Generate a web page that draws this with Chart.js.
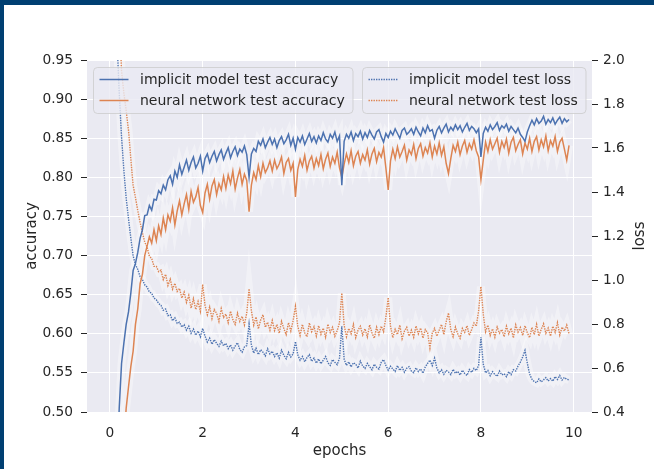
<!DOCTYPE html>
<html>
<head>
<meta charset="utf-8">
<script src="https://cdn.jsdelivr.net/npm/chart.js@4.4.1/dist/chart.umd.min.js"></script>
<style>
  html, body { margin: 0; padding: 0; background: #fff; }
  #wrap { width: 650px; height: 464px; border-top: 5px solid #003f72; border-left: 4px solid #003f72; position: relative; }
  canvas { display: block; }
</style>
</head>
<body>
<div id="wrap"><canvas id="myChart" width="650" height="464"></canvas></div>
<script>
// epochs sampled every 0.05 from 0 to 9.9
var epochs = [];
for (let i = 0; i < 199; i++) epochs.push(+(i * 0.05).toFixed(2));

var xTicks = [0, 2, 4, 6, 8, 10];
var accTicks = [0.50, 0.55, 0.60, 0.65, 0.70, 0.75, 0.80, 0.85, 0.90, 0.95];
var lossTicks = [0.4, 0.6, 0.8, 1.0, 1.2, 1.4, 1.6, 1.8, 2.0];

var accImplicit = [
0.100,0.205,0.318,0.425,0.505,0.562,0.588,0.612,0.628,0.652,
0.681,0.690,0.704,0.722,0.733,0.751,0.752,0.764,0.758,0.772,
0.771,0.783,0.779,0.790,0.784,0.797,0.802,0.791,0.808,0.800,
0.816,0.804,0.813,0.822,0.809,0.819,0.826,0.812,0.818,0.827,
0.808,0.824,0.830,0.819,0.827,0.833,0.821,0.829,0.835,0.823,
0.831,0.838,0.825,0.833,0.839,0.828,0.836,0.832,0.840,0.829,
0.800,0.830,0.837,0.833,0.846,0.841,0.849,0.838,0.845,0.851,
0.842,0.849,0.838,0.847,0.852,0.843,0.848,0.855,0.841,0.850,
0.836,0.851,0.845,0.853,0.842,0.849,0.856,0.846,0.852,0.844,
0.853,0.847,0.857,0.849,0.845,0.855,0.850,0.858,0.846,0.853,
0.790,0.846,0.855,0.850,0.858,0.847,0.856,0.852,0.859,0.849,
0.857,0.851,0.860,0.854,0.849,0.858,0.861,0.852,0.845,0.856,
0.851,0.859,0.854,0.862,0.856,0.850,0.860,0.863,0.855,0.858,
0.862,0.855,0.864,0.858,0.853,0.863,0.857,0.866,0.859,0.861,
0.850,0.860,0.865,0.857,0.863,0.868,0.858,0.864,0.860,0.867,
0.861,0.866,0.858,0.864,0.869,0.860,0.865,0.862,0.857,0.862,
0.826,0.856,0.864,0.859,0.867,0.861,0.865,0.870,0.860,0.866,
0.863,0.868,0.859,0.865,0.861,0.857,0.863,0.855,0.851,0.846,
0.858,0.866,0.873,0.867,0.875,0.869,0.872,0.878,0.868,0.874,
0.870,0.876,0.868,0.873,0.877,0.869,0.875,0.871,0.874
];

var accNeural = [
0.050,0.120,0.200,0.280,0.350,0.410,0.460,0.505,0.532,0.558,
0.578,0.612,0.632,0.664,0.676,0.700,0.712,0.724,0.716,0.733,
0.719,0.738,0.727,0.748,0.733,0.752,0.744,0.761,0.739,0.757,
0.770,0.752,0.766,0.778,0.759,0.782,0.768,0.775,0.787,0.764,
0.755,0.780,0.791,0.772,0.789,0.797,0.778,0.792,0.784,0.801,
0.786,0.803,0.792,0.808,0.785,0.799,0.810,0.791,0.804,0.796,
0.756,0.790,0.806,0.797,0.815,0.801,0.818,0.806,0.812,0.821,
0.808,0.822,0.811,0.817,0.826,0.805,0.819,0.824,0.809,0.818,
0.775,0.810,0.823,0.814,0.828,0.809,0.821,0.827,0.812,0.824,
0.815,0.829,0.811,0.823,0.831,0.814,0.826,0.818,0.832,0.812,
0.800,0.817,0.830,0.819,0.834,0.815,0.827,0.833,0.818,0.829,
0.822,0.835,0.817,0.830,0.837,0.820,0.832,0.826,0.838,0.812,
0.784,0.821,0.836,0.824,0.839,0.826,0.833,0.841,0.822,0.835,
0.829,0.842,0.824,0.837,0.843,0.827,0.838,0.831,0.844,0.826,
0.840,0.830,0.844,0.828,0.839,0.818,0.805,0.824,0.841,0.833,
0.845,0.829,0.840,0.847,0.832,0.843,0.836,0.848,0.834,0.826,
0.797,0.822,0.845,0.833,0.848,0.836,0.843,0.850,0.832,0.846,
0.838,0.849,0.831,0.845,0.851,0.834,0.842,0.848,0.830,0.844,
0.836,0.850,0.833,0.846,0.852,0.835,0.848,0.839,0.853,0.834,
0.847,0.840,0.852,0.833,0.845,0.850,0.836,0.822,0.841
];

var lossImplicit = [
3.500,3.000,2.500,2.100,1.850,1.650,1.500,1.370,1.280,1.190,
1.110,1.070,1.048,1.015,1.002,0.978,0.968,0.945,0.940,0.918,
0.910,0.893,0.885,0.862,0.868,0.838,0.842,0.815,0.828,0.803,
0.808,0.786,0.797,0.772,0.790,0.758,0.777,0.749,0.768,0.742,
0.780,0.745,0.718,0.736,0.708,0.729,0.712,0.698,0.722,0.701,
0.712,0.688,0.705,0.681,0.699,0.715,0.684,0.672,0.696,0.702,
0.800,0.705,0.668,0.690,0.661,0.683,0.672,0.655,0.688,0.664,
0.676,0.652,0.669,0.645,0.681,0.658,0.642,0.671,0.650,0.664,
0.720,0.660,0.635,0.652,0.628,0.648,0.661,0.630,0.645,0.622,
0.641,0.619,0.636,0.652,0.624,0.612,0.638,0.626,0.615,0.645,
0.790,0.640,0.612,0.628,0.605,0.624,0.617,0.600,0.631,0.609,
0.598,0.621,0.606,0.592,0.617,0.603,0.595,0.626,0.638,0.612,
0.590,0.608,0.595,0.584,0.611,0.589,0.603,0.581,0.599,0.606,
0.586,0.579,0.601,0.584,0.596,0.576,0.605,0.621,0.636,0.611,
0.645,0.600,0.578,0.592,0.571,0.589,0.582,0.570,0.594,0.576,
0.585,0.568,0.590,0.575,0.566,0.593,0.580,0.598,0.588,0.612,
0.740,0.618,0.578,0.589,0.565,0.583,0.571,0.562,0.586,0.569,
0.574,0.561,0.583,0.570,0.592,0.586,0.609,0.627,0.650,0.680,
0.622,0.572,0.549,0.538,0.533,0.550,0.537,0.546,0.556,0.541,
0.552,0.540,0.561,0.548,0.566,0.545,0.557,0.549,0.546
];

var lossNeural = [
4.000,3.500,3.000,2.600,2.200,1.950,1.850,1.770,1.680,1.550,
1.430,1.375,1.315,1.262,1.215,1.172,1.150,1.108,1.098,1.062,
1.062,1.038,1.045,1.002,1.026,0.975,1.004,0.958,0.985,0.948,
0.962,0.918,0.945,0.898,0.930,0.872,0.915,0.866,0.902,0.858,
0.980,0.885,0.842,0.878,0.825,0.866,0.848,0.812,0.870,0.830,
0.845,0.806,0.858,0.820,0.798,0.849,0.812,0.835,0.796,0.850,
0.960,0.860,0.795,0.832,0.778,0.818,0.842,0.785,0.808,0.772,
0.816,0.770,0.798,0.758,0.812,0.779,0.752,0.806,0.768,0.815,
0.880,0.790,0.748,0.798,0.760,0.742,0.805,0.765,0.788,0.745,
0.792,0.753,0.781,0.740,0.799,0.762,0.785,0.744,0.770,0.805,
0.940,0.795,0.742,0.780,0.755,0.798,0.738,0.772,0.790,0.750,
0.778,0.741,0.796,0.760,0.735,0.785,0.752,0.790,0.765,0.830,
0.920,0.790,0.738,0.776,0.752,0.795,0.733,0.768,0.785,0.745,
0.772,0.740,0.791,0.755,0.782,0.736,0.775,0.760,0.690,0.758,
0.780,0.745,0.772,0.798,0.752,0.810,0.850,0.775,0.742,0.786,
0.755,0.735,0.780,0.762,0.792,0.748,0.775,0.805,0.790,0.860,
0.970,0.845,0.765,0.795,0.748,0.778,0.740,0.786,0.758,0.775,
0.742,0.790,0.755,0.781,0.737,0.796,0.763,0.784,0.748,0.792,
0.760,0.738,0.785,0.752,0.798,0.745,0.776,0.801,0.758,0.782,
0.745,0.790,0.762,0.806,0.750,0.786,0.768,0.795,0.755
];

var blue = '#4c72b0';
var orange = '#dd8452';
var textColor = '#262626';
var tickFont = { family: 'DejaVu Sans', size: 13.75 };
var titleFont = { family: 'DejaVu Sans', size: 15 };

function pts(values) {
  return values.map((v, i) => ({ x: epochs[i], y: v }));
}

function line(label, values, color, axis, dotted) {
  return {
    label: label,
    data: pts(values),
    yAxisID: axis,
    borderColor: color,
    borderWidth: dotted ? 1.4 : 1.5,
    borderDash: dotted ? [1.4, 1.1] : [],
    pointRadius: 0,
    tension: 0,
    clip: 0,
    order: 1
  };
}

function band(values, axis) {
  return {
    label: '',
    data: pts(values),
    yAxisID: axis,
    borderColor: 'rgba(255,255,255,0.35)',
    borderWidth: 8,
    pointRadius: 0,
    clip: 0,
    order: 10
  };
}

var plotBg = {
  id: 'plotBg',
  beforeDraw(chart) {
    const a = chart.chartArea;
    const ctx = chart.ctx;
    ctx.save();
    ctx.fillStyle = '#eaeaf2';
    ctx.fillRect(a.left, a.top, a.right - a.left, a.bottom - a.top);
    ctx.restore();
  }
};

function drawLegend(ctx, x, y, w, h, rows) {
  ctx.save();
  ctx.beginPath();
  ctx.roundRect(x, y, w, h, 4);
  ctx.fillStyle = 'rgba(234,234,242,0.8)';
  ctx.fill();
  ctx.strokeStyle = 'rgba(204,204,204,0.8)';
  ctx.lineWidth = 1;
  ctx.stroke();
  ctx.font = '14px "DejaVu Sans"';
  ctx.textBaseline = 'middle';
  rows.forEach((r, k) => {
    const cy = y + 12 + k * 21;
    ctx.beginPath();
    ctx.strokeStyle = r.color;
    ctx.lineWidth = r.dotted ? 1.4 : 1.5;
    ctx.setLineDash(r.dotted ? [1.4, 1.1] : []);
    ctx.moveTo(x + 6, cy);
    ctx.lineTo(x + 35, cy);
    ctx.stroke();
    ctx.setLineDash([]);
    ctx.fillStyle = textColor;
    ctx.fillText(r.label, x + 46.5, cy + 1);
  });
  ctx.restore();
}

var legends = {
  id: 'legends',
  afterDatasetsDraw(chart) {
    const a = chart.chartArea;
    const ctx = chart.ctx;
    const ds = chart.data.datasets.filter(d => d.label);
    drawLegend(ctx, a.left + 6.5, a.top + 7.5, 259.5, 46, [
      { label: ds[0].label, color: blue, dotted: false },
      { label: ds[1].label, color: orange, dotted: false }
    ]);
    drawLegend(ctx, a.left + 275.5, a.top + 7.5, 223.5, 46, [
      { label: ds[2].label, color: blue, dotted: true },
      { label: ds[3].label, color: orange, dotted: true }
    ]);
    // right axis title, read bottom to top like the left one
    ctx.save();
    ctx.translate(chart.width - 14, (a.top + a.bottom) / 2);
    ctx.rotate(-Math.PI / 2);
    ctx.font = '15px "DejaVu Sans"';
    ctx.fillStyle = textColor;
    ctx.textAlign = 'center';
    ctx.textBaseline = 'middle';
    ctx.fillText('loss', 0, 0);
    ctx.restore();
  }
};

new Chart(document.getElementById('myChart'), {
  type: 'line',
  data: {
    datasets: [
      line('implicit model test accuracy', accImplicit, blue, 'y', false),
      line('neural network test accuracy', accNeural, orange, 'y', false),
      line('implicit model test loss', lossImplicit, blue, 'y1', true),
      line('neural network test loss', lossNeural, orange, 'y1', true),
      band(accImplicit, 'y'),
      band(accNeural, 'y'),
      band(lossImplicit, 'y1'),
      band(lossNeural, 'y1')
    ]
  },
  options: {
    responsive: false,
    animation: false,
    events: [],
    layout: { padding: { top: 55, left: 0, right: 0, bottom: 0 } },
    plugins: { legend: { display: false }, tooltip: { enabled: false } },
    scales: {
      x: {
        type: 'linear',
        min: -0.495,
        max: 10.395,
        afterBuildTicks: s => { s.ticks = xTicks.map(v => ({ value: v })); },
        afterFit: s => { s.height = 57; },
        grid: { color: '#ffffff', lineWidth: 1, drawTicks: false },
        border: { display: false },
        ticks: { color: textColor, font: tickFont, padding: 13, maxRotation: 0 },
        title: { display: true, text: 'epochs', color: textColor, font: titleFont, padding: { top: 0, bottom: 9 } }
      },
      y: {
        position: 'left',
        min: 0.5,
        max: 0.95,
        afterBuildTicks: s => { s.ticks = accTicks.map(v => ({ value: v })); },
        afterFit: s => { s.width = 83; },
        grid: { color: '#ffffff', lineWidth: 1, drawTicks: true, tickLength: 6, tickColor: '#262626', tickWidth: 1 },
        border: { display: false },
        ticks: { color: textColor, font: tickFont, padding: 8, callback: v => v.toFixed(2) },
        title: { display: true, text: 'accuracy', color: textColor, font: titleFont, padding: { top: 19, bottom: 19 } }
      },
      y1: {
        position: 'right',
        min: 0.4,
        max: 2.0,
        afterBuildTicks: s => { s.ticks = lossTicks.map(v => ({ value: v })); },
        afterFit: s => { s.width = 62; },
        grid: { display: true, drawOnChartArea: false, drawTicks: true, tickLength: 6, tickColor: '#262626', tickWidth: 1 },
        border: { display: false },
        ticks: { color: textColor, font: tickFont, padding: 5, callback: v => v.toFixed(1) }
      }
    }
  },
  plugins: [plotBg, legends]
});
</script>
</body>
</html>
